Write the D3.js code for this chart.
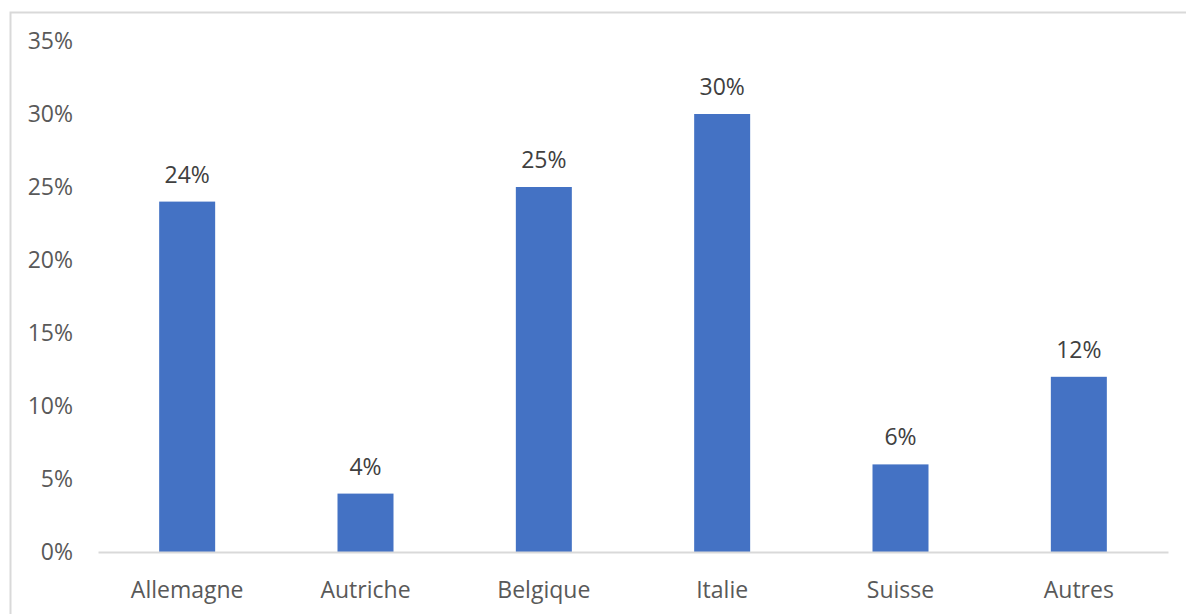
<!DOCTYPE html>
<html>
<head>
<meta charset="utf-8">
<script src="https://cdn.jsdelivr.net/npm/d3@7"></script>
<style>
  html, body { margin: 0; padding: 0; background: #ffffff; }
  svg { display: block; font-family: "Open Sans", "Noto Sans", sans-serif; }
</style>
</head>
<body>
<svg id="chart" width="1186" height="614"></svg>
<script>
// Share by country (percent)
const categories = ["Allemagne", "Autriche", "Belgique", "Italie", "Suisse", "Autres"];
const values = [24, 4, 25, 30, 6, 12];
const yTicks = [0, 5, 10, 15, 20, 25, 30, 35];

const width = 1186, height = 614;
const margin = { top: 41, right: 18, bottom: 62, left: 98 };
const fontSize = "23px";

const svg = d3.select("#chart");

// Outer chart frame
svg.append("rect")
  .attr("x", 10.5).attr("y", 12.5)
  .attr("width", 1200).attr("height", 640)
  .attr("fill", "none")
  .attr("stroke", "#d9d9d9")
  .attr("stroke-width", 2);

const x = d3.scaleBand()
  .domain(categories)
  .range([margin.left, width - margin.right])
  .paddingInner(0.686)
  .paddingOuter(0.343);

const y = d3.scaleLinear()
  .domain([0, 35])
  .range([height - margin.bottom, margin.top]);

// Y axis labels (no line, no ticks)
const yAxis = d3.axisLeft(y)
  .tickValues(yTicks)
  .tickFormat(d => d + "%")
  .tickSize(0)
  .tickPadding(0);

const gy = svg.append("g")
  .attr("transform", `translate(${margin.left - 25},0)`)
  .call(yAxis);
gy.select(".domain").remove();
gy.selectAll("text")
  .attr("fill", "#595959")
  .style("font-size", fontSize)
  .style("font-family", "'Open Sans', 'Noto Sans', sans-serif");

// Bars
svg.append("g")
  .selectAll("rect")
  .data(values)
  .join("rect")
  .attr("x", (d, i) => x(categories[i]))
  .attr("width", x.bandwidth())
  .attr("y", d => y(d))
  .attr("height", d => y(0) - y(d))
  .attr("fill", "#4472c4");

// Baseline
const gx = svg.append("g")
  .attr("transform", `translate(0,${y(0)})`)
  .call(d3.axisBottom(x).tickSize(0).tickPadding(30));
gx.select(".domain")
  .attr("stroke", "#d9d9d9")
  .attr("stroke-width", 2);
gx.selectAll("text")
  .attr("fill", "#595959")
  .style("font-size", fontSize)
  .style("font-family", "'Open Sans', 'Noto Sans', sans-serif");

// Value labels above bars
svg.append("g")
  .selectAll("text")
  .data(values)
  .join("text")
  .attr("x", (d, i) => x(categories[i]) + x.bandwidth() / 2)
  .attr("y", d => y(d) - 19)
  .attr("text-anchor", "middle")
  .attr("fill", "#404040")
  .style("font-size", fontSize)
  .text(d => d + "%");
</script>
</body>
</html>
